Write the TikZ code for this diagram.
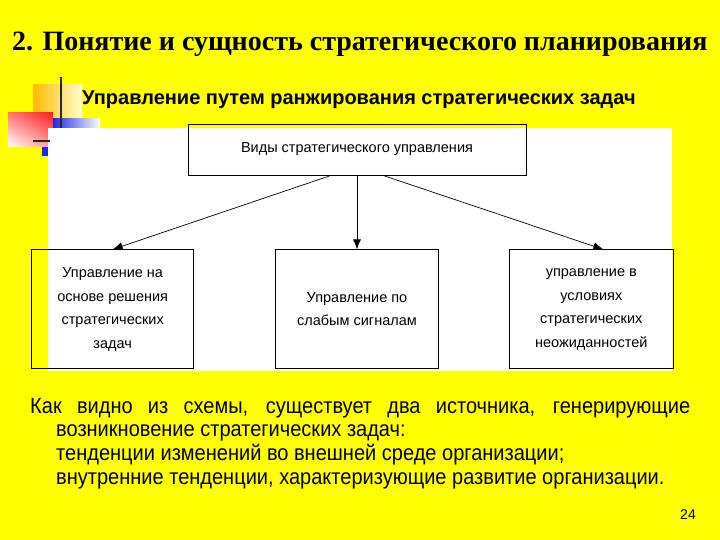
\documentclass[tikz,border=0pt]{standalone}
\usepackage{fontspec}
\setmainfont{Liberation Serif}
\setsansfont{Liberation Sans}
\newfontfamily\narrowsans[FakeStretch=0.91]{Liberation Sans}
\usetikzlibrary{arrows.meta, positioning, shadings}
\definecolor{slideyellow}{RGB}{255, 255, 0}
\definecolor{decoorange}{RGB}{255, 186, 0}
\definecolor{decored}{RGB}{255, 30, 30}
\definecolor{decoblue}{RGB}{30, 40, 235}
\tikzset{
	kindbox/.style={rectangle, draw=black, line width=0.8pt, align=center, inner sep=0pt, font=\sffamily\fontsize{14.5}{23.5}\selectfont},
	branch/.style={-{Latex[length=10pt, width=8pt]}, line width=0.7pt, draw=black},
	bodyline/.style={anchor=base west, inner sep=0pt, font=\narrowsans\fontsize{22}{24}\selectfont},
	decoline/.style={line width=2pt, draw=black!85},
}

\begin{document}
\begin{tikzpicture}[x=1pt, y=-1pt, node distance=74pt]
		% slide background
		\fill[slideyellow] (0,0) rectangle (720,540);
		\useasboundingbox (0,0) rectangle (720,540);
		% corner decoration
		\shade[left color=decoorange, right color=slideyellow!20!white] (33,85) rectangle (82,128);
		\shade[upper left=decored!60!white, upper right=decored, lower left=white, lower right=decored!45!white] (8,113) rectangle (53,147);
		\shade[left color=decoblue, right color=white] (53,119) rectangle (100,128);
		\draw[decoline] (61,77) -- (61,128);
		% white panel
		\fill[white] (48,128) rectangle (672,371);
		\draw[decoline] (33,141) -- (50,141);
		\fill[decoblue] (42,147) rectangle (48,156);
		% headings
		\node[anchor=west, inner sep=0pt, font=\rmfamily\bfseries\fontsize{28}{30}\selectfont] (title) at (12,44) {2. Понятие и сущность стратегического планирования};
		\node[anchor=west, inner sep=0pt, font=\sffamily\bfseries\fontsize{20}{22}\selectfont] (subtitle) at (82,100) {Управление путем ранжирования стратегических задач};
		% diagram
		\node[kindbox, minimum width=338pt, minimum height=51pt] (kinds) at (357,149.5) {Виды стратегического управления};
		\node[kindbox, minimum width=163pt, minimum height=119pt, below=of kinds] (weak) {Управление по\\слабым сигналам};
		\node[kindbox, minimum width=162pt, minimum height=119pt, left=81pt of weak] (ranking) {Управление на\\основе решения\\стратегических\\задач};
		\node[kindbox, minimum width=164pt, minimum height=119pt, right=70pt of weak] (surprise) {управление в\\условиях\\стратегических\\неожиданностей};
		\draw[branch] (kinds.225) -- (ranking.north);
		\draw[branch] (kinds.south) -- (weak.north);
		\draw[branch] (kinds.315) -- ([xshift=12pt]surprise.north);
		% explanation
		\node[bodyline] (intro) at (30,413) {\makebox[660pt][s]{Как видно из схемы, существует два источника, генерирующие}};
		\node[bodyline] (intro2) at (56,436) {возникновение стратегических задач:};
		\node[bodyline] (outer) at (56,460) {тенденции изменений во внешней среде организации;};
		\node[bodyline] (inner) at (56,484) {внутренние тенденции, характеризующие развитие организации.};
		\node[font=\sffamily\fontsize{14}{16}\selectfont, inner sep=0pt] (page) at (688,515) {24};
	\end{tikzpicture}
\end{document}
